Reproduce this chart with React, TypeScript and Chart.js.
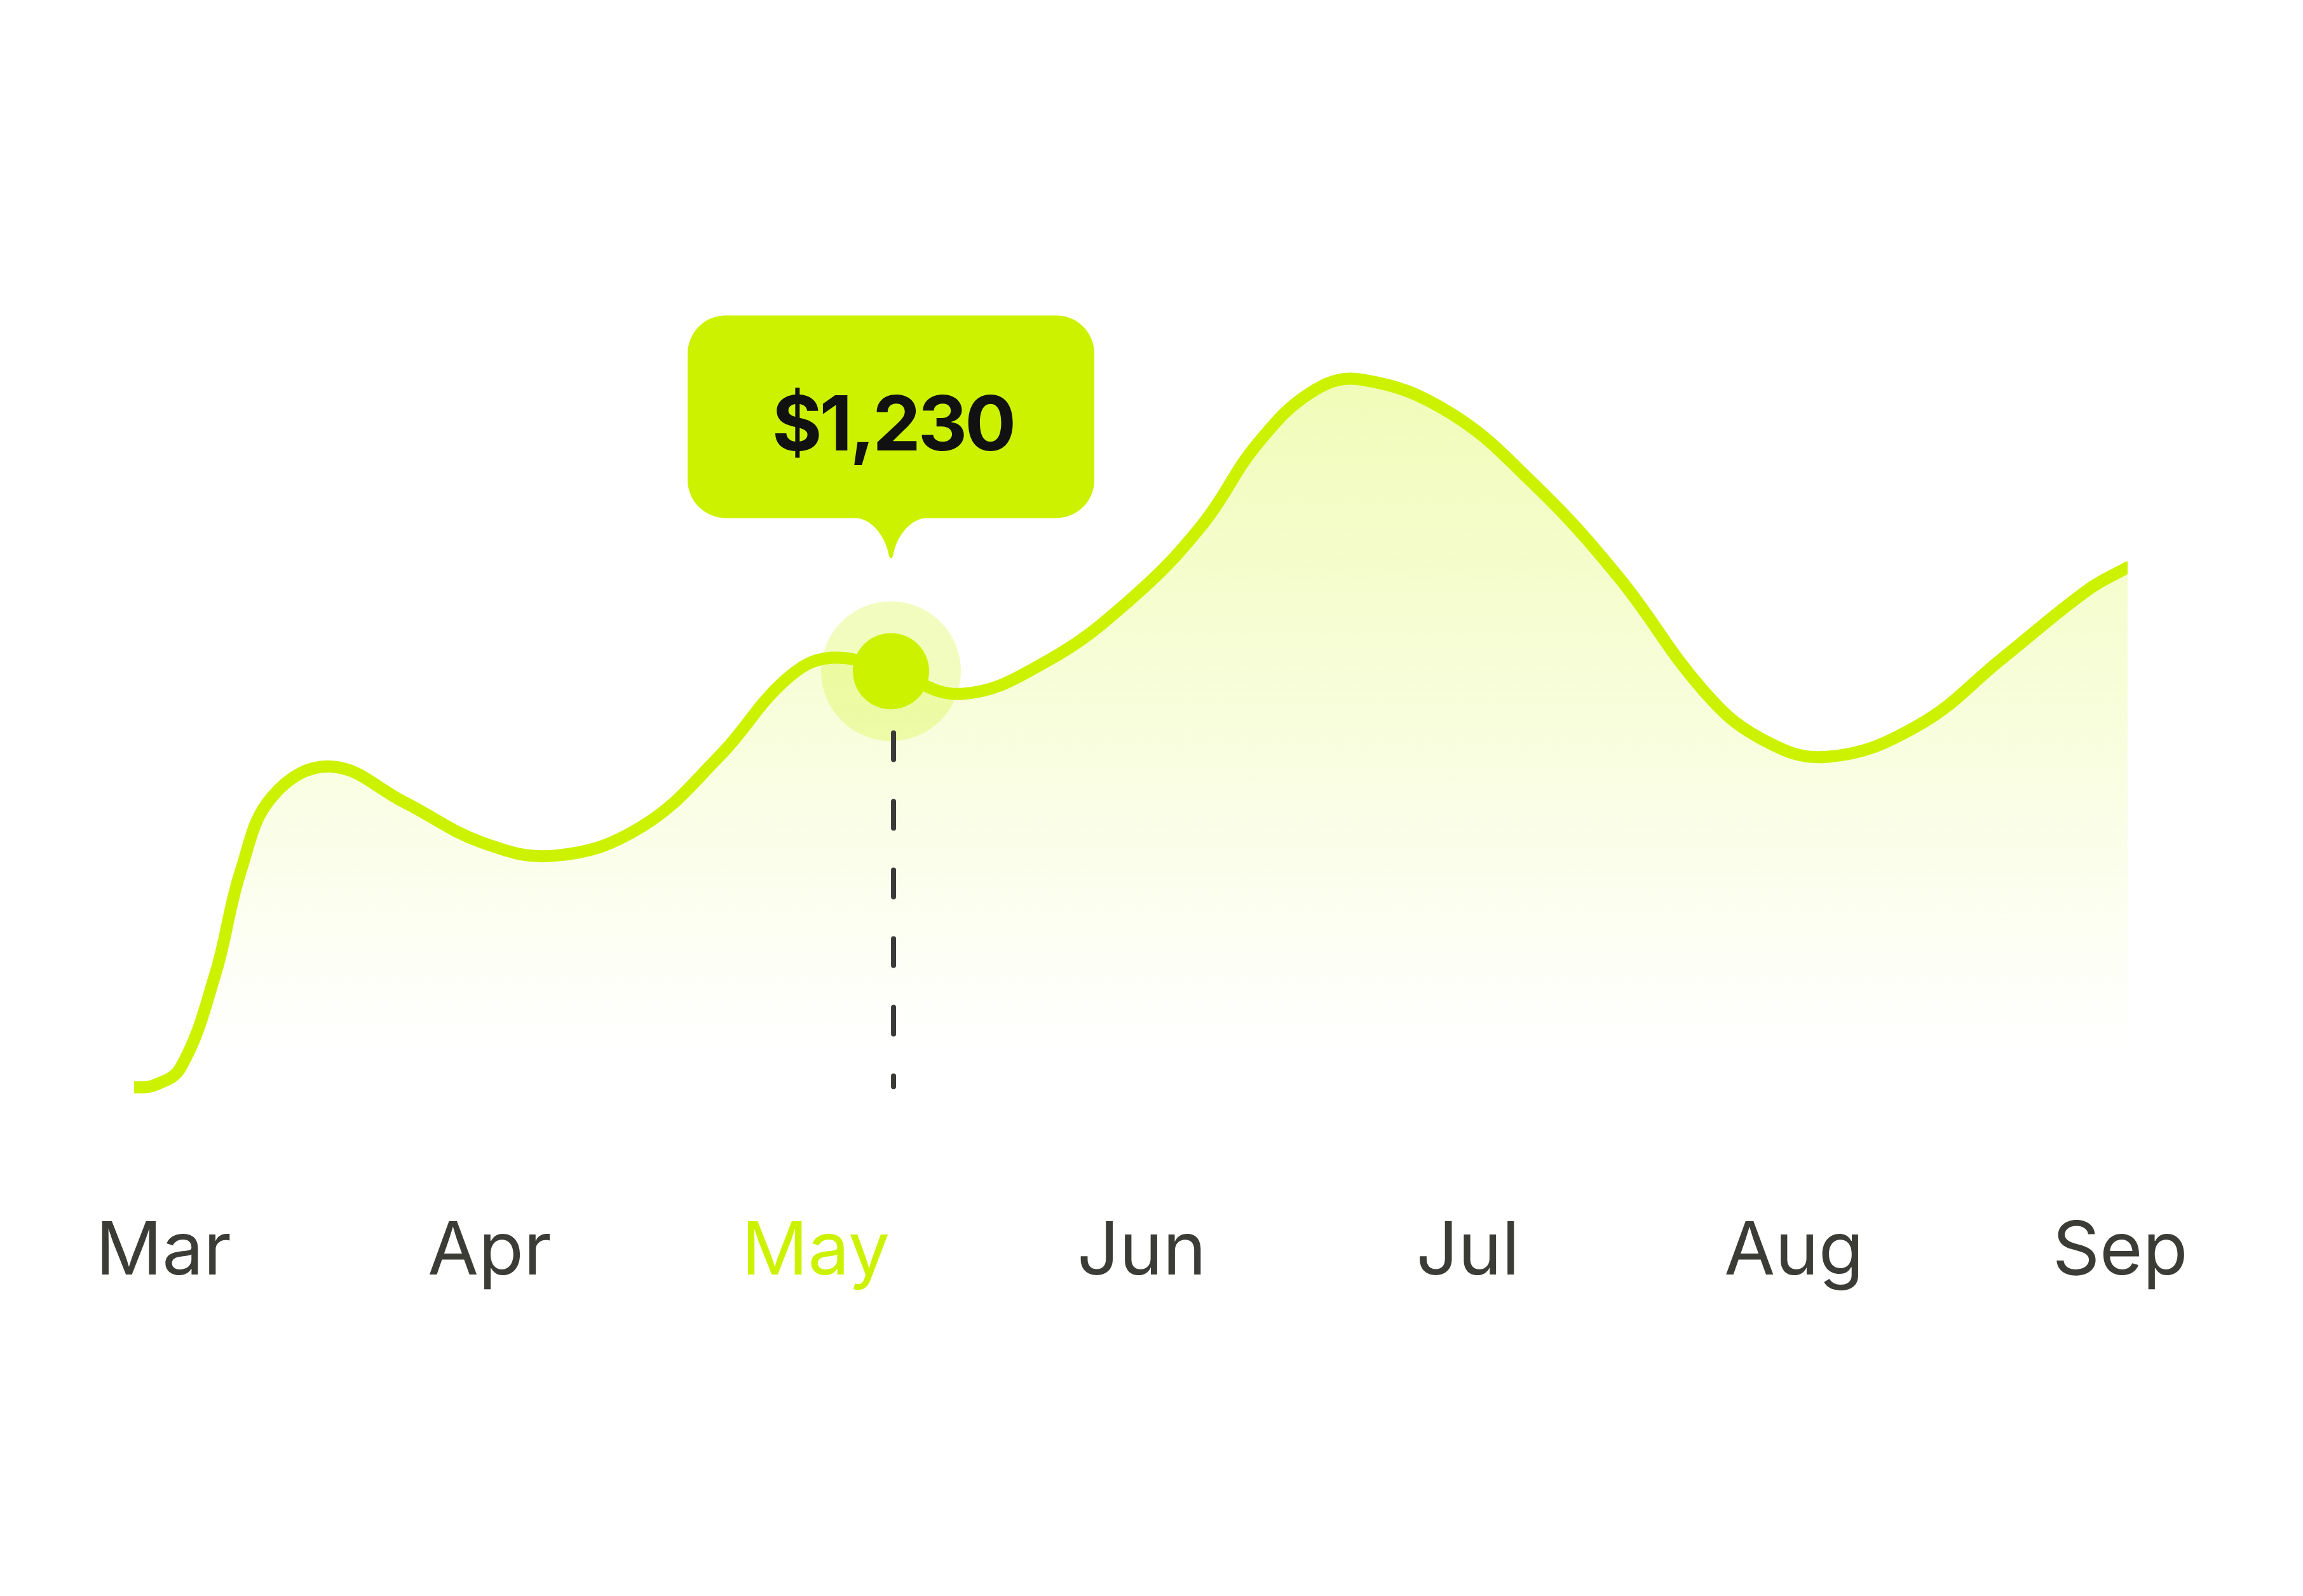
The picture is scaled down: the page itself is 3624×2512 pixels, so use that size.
import { useEffect, useRef } from "react";
import { Chart, registerables, Plugin } from "chart.js";

Chart.register(...registerables);

// month ticks (x position in month units)
const months = ["Mar", "Apr", "May", "Jun", "Jul", "Aug", "Sep"];
const monthPos = [0, 1, 2, 3, 4, 5, 6];
const highlightMonth = 2;

// series (x in months from Mar, y in $)
const seriesX = [
  -0.09, -0.029, 0.053, 0.158, 0.238, 0.335, 0.513, 0.739, 0.98, 1.204, 1.463,
  1.705, 1.908, 2.046, 2.231, 2.446, 2.707, 2.966, 3.184, 3.357, 3.533, 3.679,
  3.94, 4.199, 4.46, 4.721, 4.897, 5.101, 5.38, 5.641, 5.902, 6.023,
];
const seriesY = [
  20, 26, 78, 346, 652, 867, 953, 849, 731, 694, 776, 983, 1205, 1269, 1230,
  1164, 1258, 1439, 1654, 1894, 2049, 2077, 1984, 1777, 1506, 1175, 1035, 981,
  1072, 1269, 1467, 1532,
];
const highlightIndex = 14;

const GREEN = "#CCF200";

const highlightPlugin: Plugin<"line"> = {
  id: "highlight",
  beforeDatasetsDraw(chart) {
    const pt = chart.getDatasetMeta(0).data[highlightIndex];
    if (!pt) return;
    const ctx = chart.ctx;
    ctx.save();
    ctx.fillStyle = "rgba(204,242,0,0.25)";
    ctx.beginPath();
    ctx.arc(pt.x, pt.y, 110, 0, Math.PI * 2);
    ctx.fill();
    ctx.restore();
  },
  afterDatasetsDraw(chart) {
    const pt = chart.getDatasetMeta(0).data[highlightIndex];
    if (!pt) return;
    const ctx = chart.ctx;
    const { x, y } = pt;
    const area = chart.chartArea;

    // dashed drop line
    ctx.save();
    ctx.strokeStyle = "#3a3a38";
    ctx.lineWidth = 8;
    ctx.lineCap = "round";
    ctx.setLineDash([42, 66]);
    ctx.beginPath();
    ctx.moveTo(x + 4, y + 97);
    ctx.lineTo(x + 4, area.bottom - 12);
    ctx.stroke();
    ctx.restore();

    // dot
    ctx.save();
    ctx.fillStyle = GREEN;
    ctx.beginPath();
    ctx.arc(x, y, 60, 0, Math.PI * 2);
    ctx.fill();
    ctx.restore();

    // tooltip bubble
    const w = 640;
    const left = x - w / 2;
    const right = x + w / 2;
    const top = y - 560;
    const bottom = y - 241;
    const tipY = y - 177;
    const r = 60;
    ctx.save();
    ctx.fillStyle = GREEN;
    ctx.beginPath();
    ctx.moveTo(left + r, top);
    ctx.arcTo(right, top, right, top + r, r);
    ctx.arcTo(right, bottom, right - r, bottom, r);
    ctx.lineTo(x + 52, bottom);
    ctx.bezierCurveTo(x + 28, bottom + 4, x + 8, bottom + 30, x + 3, tipY - 4);
    ctx.quadraticCurveTo(x, tipY + 2, x - 3, tipY - 4);
    ctx.bezierCurveTo(x - 8, bottom + 30, x - 28, bottom + 4, x - 52, bottom);
    ctx.arcTo(left, bottom, left, bottom - r, r);
    ctx.arcTo(left, top, left + r, top, r);
    ctx.closePath();
    ctx.fill();

    ctx.fillStyle = "#111111";
    ctx.font = "bold 120px Inter";
    (ctx as any).letterSpacing = "-4px";
    ctx.textAlign = "center";
    ctx.textBaseline = "middle";
    const label = "$" + seriesY[highlightIndex].toLocaleString("en-US");
    ctx.fillText(label, x + 3, (top + bottom) / 2 + 17);
    ctx.restore();
  },
};

function RevenueLine() {
  const canvasRef = useRef<HTMLCanvasElement | null>(null);

  useEffect(() => {
    if (!canvasRef.current) return;
    const ctx = canvasRef.current.getContext("2d");
    if (!ctx) return;

    const chart = new Chart(ctx, {
      type: "line",
      data: {
        datasets: [
          {
            data: seriesX.map((x, i) => ({ x, y: seriesY[i] })),
            borderColor: GREEN,
            borderWidth: 19,
            borderCapStyle: "round",
            borderJoinStyle: "round",
            tension: 0.4,
            pointRadius: 0,
            fill: "origin",
            backgroundColor: (c: any) => {
              const area = c.chart.chartArea;
              if (!area) return "rgba(204,242,0,0.15)";
              const g = c.chart.ctx.createLinearGradient(0, area.top, 0, area.bottom);
              g.addColorStop(0, "rgba(204,242,0,0.32)");
              g.addColorStop(0.95, "rgba(204,242,0,0)");
              g.addColorStop(1, "rgba(204,242,0,0)");
              return g;
            },
          },
        ],
      },
      options: {
        responsive: true,
        maintainAspectRatio: false,
        animation: false,
        events: [],
        layout: { padding: { left: 203, right: 268, top: 415, bottom: 284 } },
        plugins: {
          legend: { display: false },
          tooltip: { enabled: false },
          filler: { drawTime: "beforeDatasetsDraw" },
        },
        scales: {
          x: {
            type: "linear",
            min: -0.09,
            max: 6.023,
            grid: { display: false, drawTicks: false },
            border: { display: false },
            afterBuildTicks: (axis: any) => {
              axis.ticks = monthPos.map((v) => ({ value: v }));
            },
            ticks: {
              autoSkip: false,
              maxRotation: 0,
              padding: 0,
              font: { family: "Inter", size: 116, lineHeight: 4.29 },
              color: (c: any) =>
                c.tick && c.tick.value === highlightMonth ? GREEN : "#3C3C37",
              callback: (v: any) => months[monthPos.indexOf(Number(v))] ?? "",
            },
          },
          y: {
            display: false,
            min: 0,
            max: 2400,
          },
        },
      },
      plugins: [highlightPlugin],
    });

    return () => chart.destroy();
  }, []);

  return (
    <div style={{ width: "100%", height: 2496 }}>
      <canvas ref={canvasRef} />
    </div>
  );
}

export default function App() {
  return <RevenueLine />;
}
